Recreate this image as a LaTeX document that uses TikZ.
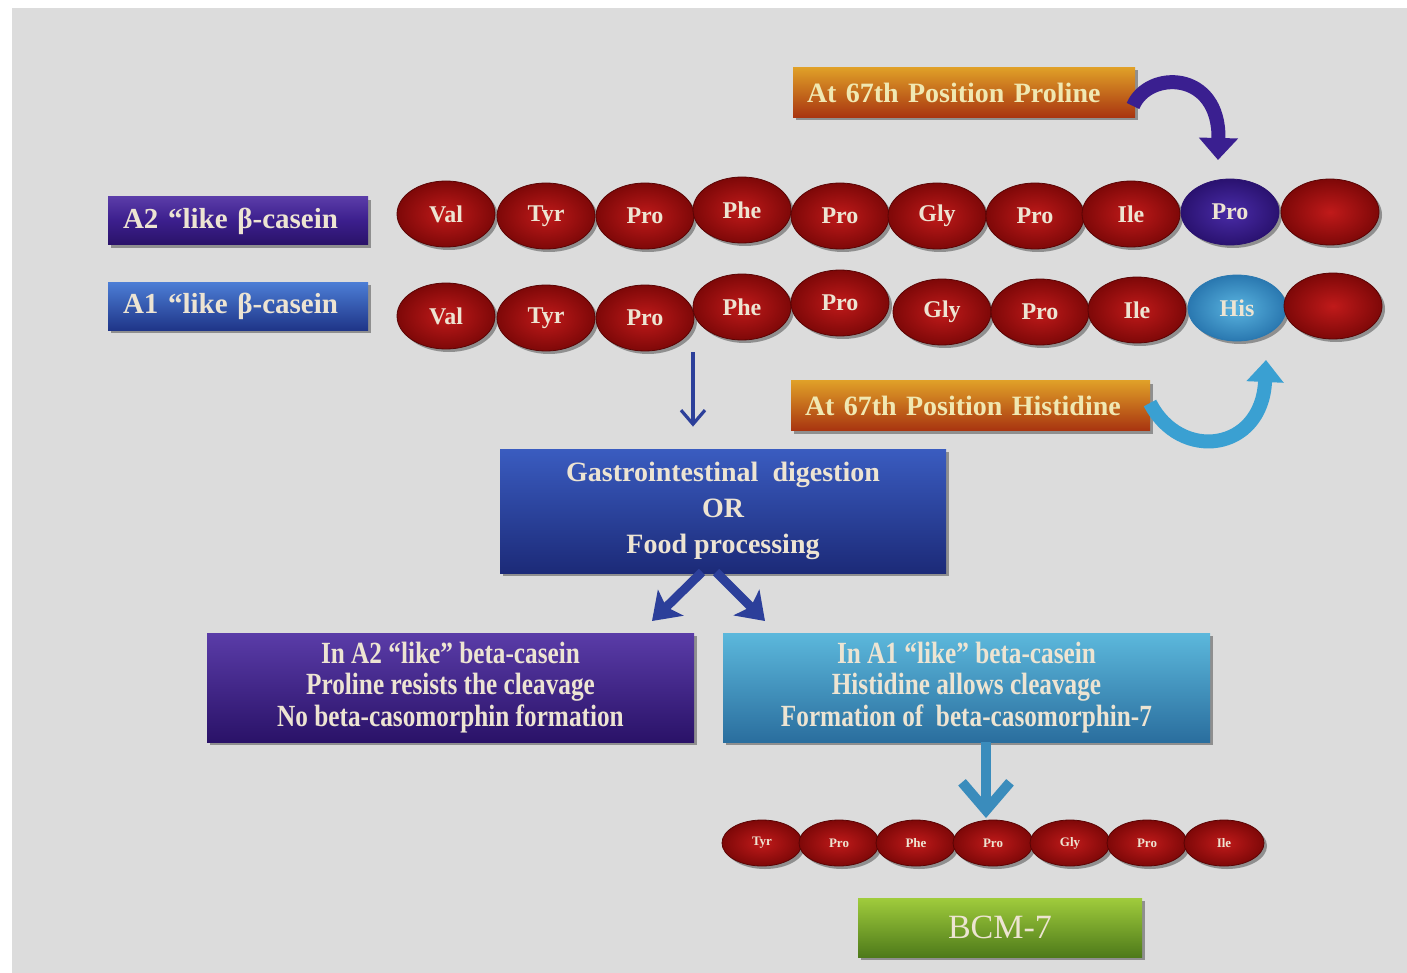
\documentclass[tikz,border=0pt]{standalone}
\usepackage{fontspec}
\setmainfont{Liberation Serif}
\newfontfamily\condfont[FakeStretch=0.82]{Liberation Serif}
\usetikzlibrary{shapes.geometric,shadows,arrows.meta}
\definecolor{bg}{HTML}{DCDCDC}
\definecolor{cream}{HTML}{EDE4D2}
\definecolor{redI}{HTML}{C01A1A}
\definecolor{redO}{HTML}{7E0808}
\definecolor{redD}{HTML}{5A0404}
\definecolor{purpT}{HTML}{5A3CA8}
\definecolor{purpM}{HTML}{3B1E8C}
\definecolor{purpB}{HTML}{2A1268}
\definecolor{blueT}{HTML}{4C7ED6}
\definecolor{blueM}{HTML}{2E50B0}
\definecolor{blueB}{HTML}{1F3588}
\definecolor{giT}{HTML}{3A5CC0}
\definecolor{giM}{HTML}{2A3C9C}
\definecolor{giB}{HTML}{1C2A78}
\definecolor{orT}{HTML}{E0A028}
\definecolor{orM}{HTML}{D6501C}
\definecolor{orB}{HTML}{A83410}
\definecolor{ltT}{HTML}{5CB8DC}
\definecolor{ltM}{HTML}{3A92C4}
\definecolor{ltB}{HTML}{2A6E9E}
\definecolor{grT}{HTML}{A0CC3C}
\definecolor{grM}{HTML}{78AA2C}
\definecolor{grB}{HTML}{4E7A1A}
\definecolor{hisI}{HTML}{5AB4E0}
\definecolor{hisO}{HTML}{2A78B0}
\definecolor{proI}{HTML}{4A2CA8}
\definecolor{proO}{HTML}{2A1270}
\definecolor{arrDk}{HTML}{2C3F9A}
\definecolor{arrLt}{HTML}{3A8CBC}
\definecolor{arrCurvP}{HTML}{3A1F90}
\definecolor{arrCurvL}{HTML}{3AA0D2}
\begin{document}
\begin{tikzpicture}[x=0.5pt,y=-0.5pt,
  shad/.style={drop shadow={shadow xshift=1.5pt,shadow yshift=-1.5pt,opacity=0.35,fill=black}},
  aa/.style={ellipse, minimum width=49pt, minimum height=33pt, inner sep=0pt,
    inner color=redI, outer color=redO, draw=redD, line width=0.4pt,
    font=\bfseries\fontsize{12}{12}\selectfont, text=cream, shad},
  aasmall/.style={aa, minimum width=40pt, minimum height=23pt, font=\bfseries\fontsize{6.5}{6.5}\selectfont},
  aapro/.style={aa, inner color=proI, outer color=proO, draw=proO},
  aahis/.style={aa, inner color=hisI, outer color=hisO, draw=hisO},
  box/.style={rectangle, inner sep=0pt, text=cream, align=center, shad},
  labA2/.style={box, minimum width=130pt, minimum height=24pt, text width=115pt, inner xsep=7.5pt, align=left,
    top color=purpT, bottom color=purpB, middle color=purpM,
    font=\bfseries\fontsize{14.5}{14.5}\selectfont},
  labA1/.style={labA2, top color=blueT, middle color=blueM, bottom color=blueB},
  orbox/.style={box, minimum height=25pt, top color=orT, middle color=orM, bottom color=orB,
    text=cream!85!yellow, font=\bfseries\fontsize{14}{14}\selectfont, align=left, inner xsep=7pt},
  gibox/.style={box, minimum width=223pt, minimum height=62pt, top color=giT, middle color=giM, bottom color=giB,
    font=\bfseries\fontsize{14}{18}\selectfont},
  resP/.style={box, minimum width=243.5pt, minimum height=54.5pt, top color=purpT, middle color=purpM, bottom color=purpB,
    font=\condfont\bfseries\fontsize{15.4}{15.75}\selectfont},
  resL/.style={resP, top color=ltT, middle color=ltM, bottom color=ltB},
  bcm/.style={box, minimum width=142pt, minimum height=29.5pt, top color=grT, middle color=grM, bottom color=grB,
    font=\fontsize{17}{17}\selectfont}
]
\useasboundingbox (0,0) rectangle (1407,973);
\fill[white] (0,0) rectangle (1407,973);
\fill[bg] (12,8) rectangle (1407,973);

% top orange label and curved arrow
\node[orbox, text width=157pt] (or1) at (964,92.5) {At 67th Position Proline};

% labels
\node[labA2] (la2) at (238,221) {A2 “like β-casein};
\node[labA1] (la1) at (238,306) {A1 “like β-casein};

% row 1
\node[aa] (r1a) at (446,214) {Val};
\node[aa] (r1b) at (546,216) {Tyr};
\node[aa] (r1c) at (645,216) {Pro};
\node[aa] (r1d) at (742,210) {Phe};
\node[aa] (r1e) at (840,216) {Pro};
\node[aa] (r1f) at (937,216) {Gly};
\node[aa] (r1g) at (1035,216) {Pro};
\node[aa] (r1h) at (1131,214) {Ile};
\node[aapro] (r1i) at (1230,212) {Pro};
\node[aa] (r1j) at (1330,212) {};

% row 2
\node[aa] (r2a) at (446,316) {Val};
\node[aa] (r2b) at (546,318) {Tyr};
\node[aa] (r2c) at (645,318) {Pro};
\node[aa] (r2d) at (742,307) {Phe};
\node[aa] (r2e) at (840,303) {Pro};
\node[aa] (r2f) at (942,312) {Gly};
\node[aa] (r2g) at (1040,312) {Pro};
\node[aa] (r2h) at (1137,310) {Ile};
\node[aahis] (r2i) at (1237,308) {His};
\node[aa] (r2j) at (1333,306) {};

% second orange label
\node[orbox, text width=165.5pt] (or2) at (970.5,405.5) {At 67th Position Histidine};

% curved arrows
\coordinate (p0) at (1133,106);
\coordinate (p1) at (1218,160);
\draw[arrCurvP, line width=7pt, -{Triangle[length=11pt,width=19pt]}]
  (p0) .. controls (1148,70) and (1220,70) .. (p1);
\coordinate (h0) at (1150,403);
\coordinate (h1) at (1266,360);
\draw[arrCurvL, line width=7pt, -{Triangle[length=11pt,width=18pt]}]
  (h0) .. controls (1180,462) and (1262,452) .. (h1);

% gastro box
\node[gibox] (gi) at (723,511) {Gastrointestinal\ \ digestion\\OR\\Food processing};

\coordinate (c1) at (693,352);
\draw[arrDk, line width=1.6pt, -{Straight Barb[length=7pt,width=12pt,line width=1.6pt]}]
  (c1) -- (c1 |- gi.north) [shorten >=11pt];

% result boxes
\node[resP] (rp) at (450.5,687.5) {In A2 “like” beta-casein\\Proline resists the cleavage\\No beta-casomorphin formation};
\node[resL] (rl) at (966.5,687.5) {In A1 “like” beta-casein\\Histidine allows cleavage\\Formation of\ \ beta-casomorphin-7};

\coordinate (g1) at (702,572);
\coordinate (g2) at (716,572);
\coordinate (t1) at (652,621);
\coordinate (t2) at (765,621);
\draw[arrDk, line width=4.5pt, -{Stealth[length=13pt,width=18pt,inset=3pt]}] (g1) -- (t1);
\draw[arrDk, line width=4.5pt, -{Stealth[length=13pt,width=18pt,inset=3pt]}] (g2) -- (t2);

% BCM-7 chain
\node[aasmall] (s1) at (762,843) {Tyr};
\node[aasmall] (s2) at (839,843) {Pro};
\node[aasmall] (s3) at (916,843) {Phe};
\node[aasmall] (s4) at (993,843) {Pro};
\node[aasmall] (s5) at (1070,843) {Gly};
\node[aasmall] (s6) at (1147,843) {Pro};
\node[aasmall] (s7) at (1224,843) {Ile};

\coordinate (d0) at (986,742);
\draw[arrLt, line width=5pt, -{Straight Barb[length=14pt,width=24pt,line width=5pt]}]
  (d0) -- (986,818);

\node[bcm] (bc) at (1000,927.5) {BCM-7};
\end{tikzpicture}
\end{document}
